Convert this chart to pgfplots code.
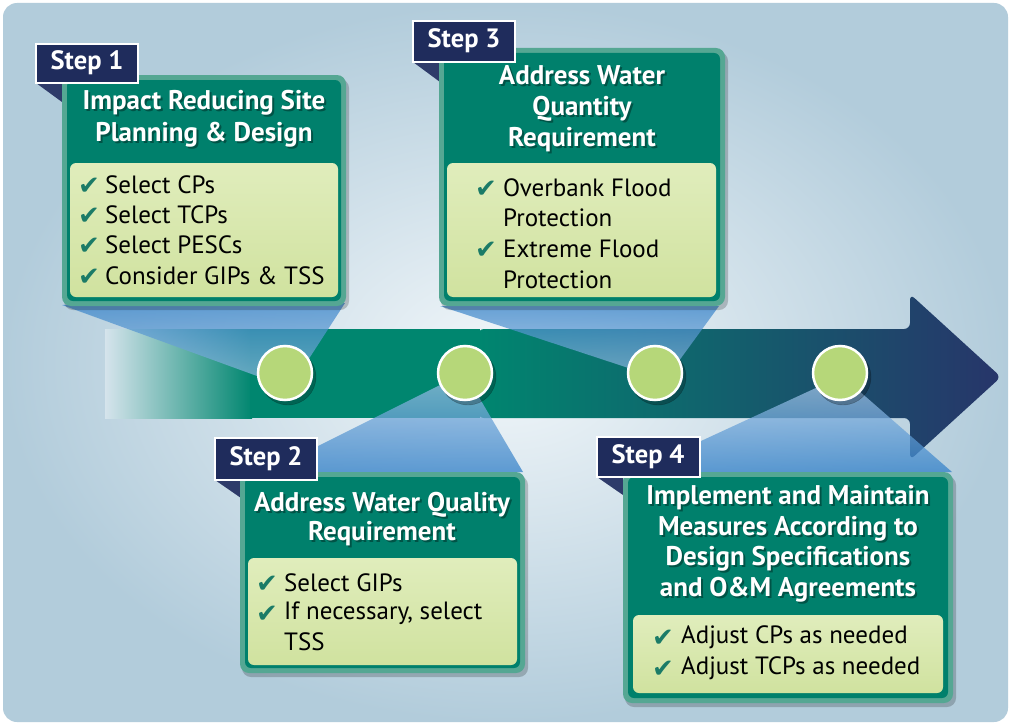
\documentclass[border=0pt]{standalone}
\usepackage{pgfplots}
\pgfplotsset{compat=1.18}
\usepackage{fontspec}
\setmainfont{PT Sans}
\newfontfamily\sym{DejaVu Sans}
\definecolor{bgin}{HTML}{F2F7FA}
\definecolor{bgout}{HTML}{B2CCDB}
\definecolor{tealA}{HTML}{00866F}
\definecolor{tealM}{HTML}{4E7D82}
\definecolor{navyA}{HTML}{27356A}
\definecolor{boxin}{HTML}{00806C}
\definecolor{boxout}{HTML}{55A793}
\definecolor{paneltop}{HTML}{E0EDBC}
\definecolor{panelbot}{HTML}{D0E29F}
\definecolor{lab}{HTML}{1F2C5C}
\definecolor{labtri}{HTML}{2E3B6A}
\definecolor{chk}{HTML}{1B7B67}
\definecolor{beamS}{HTML}{3280C8}
\definecolor{beamL}{HTML}{9CC0E4}
\definecolor{circ}{HTML}{B6D779}
\newcommand\ck{{\sym\color{chk}✔}}
\tikzset{ttl/.style={white,align=center,font=\bfseries\fontsize{27}{31}\selectfont},
 shd/.style={black,opacity=0.35,align=center,font=\bfseries\fontsize{27}{31}\selectfont},
 itm/.style={anchor=west,black,font=\fontsize{25}{30}\selectfont,inner sep=0pt},
 cks/.style={anchor=center,font=\fontsize{26}{30}\selectfont,inner sep=0pt},
 stp/.style={white,font=\bfseries\fontsize{26.5}{28}\selectfont}}
\begin{document}
\begin{tikzpicture}
\begin{axis}[width=1011pt,height=725pt,scale only axis,xmin=0,xmax=1011,ymin=0,ymax=725,
  y dir=reverse,axis lines=none,clip=false]
% background
\addplot[draw=none,fill=white] coordinates {(0,0)(1011,0)(1011,725)(0,725)} -- cycle;
\addplot[draw=none,inner color=bgin,outer color=bgout,rounded corners=14pt] coordinates {(3,3)(1008,3)(1008,722)(3,722)} -- cycle;
% arrow
\addplot[draw=none,left color=bgin!55!bgout,right color=tealA] coordinates {(105,329)(252,329)(252,418)(105,418)} -- cycle;
\addplot[draw=none,fill=tealA] coordinates {(250,329)(480,329)(480,418)(250,418)} -- cycle;
\addplot[draw=none,left color=tealA,middle color=tealM,right color=navyA,rounded corners=6pt] coordinates {(478,329)(910,329)(910,294)(1001,377)(910,460)(910,418)(478,418)} -- cycle;
% circles
\addplot[only marks,mark=*,mark size=28pt,mark options={fill=black,draw=none,opacity=0.25}] coordinates {(288,377)(468,377)(658,377)(843,377)};
\addplot[only marks,mark=*,mark size=27pt,mark options={fill=circ,draw=white,line width=2.5pt}] coordinates {(285,373)(465,373)(655,373)(840,373)};
% beams
\addplot[draw=none,top color=beamS,bottom color=beamL,fill opacity=0.7] coordinates {(62,305)(345,303)(290,388)} -- cycle;
\addplot[draw=none,top color=beamS,bottom color=beamL,fill opacity=0.7] coordinates {(440,306)(719,306)(665,380)} -- cycle;
\addplot[draw=none,top color=beamL,bottom color=beamS,fill opacity=0.75] coordinates {(310,450)(458,376)(470,382)(523,472)(310,472)} -- cycle;
\addplot[draw=none,top color=beamL,bottom color=beamS,fill opacity=0.75] coordinates {(688,447)(818,387)(858,390)(952,472)(688,472)} -- cycle;
% ---------- Step 1
\addplot[fill=labtri,draw=none] coordinates {(36,83)(62,83)(62,102)} -- cycle;
\addplot[fill=black,opacity=0.2,draw=none,rounded corners=9pt] coordinates {(64,79)(349,79)(349,310)(64,310)} -- cycle;
\addplot[fill=boxout,draw=none,rounded corners=9pt] coordinates {(62,75)(346,75)(346,306)(62,306)} -- cycle;
\addplot[fill=boxin,draw=none,rounded corners=6pt] coordinates {(67,80)(341,80)(341,301)(67,301)} -- cycle;
\addplot[top color=paneltop,bottom color=panelbot,draw=none,rounded corners=6pt] coordinates {(70,163)(338,163)(338,297)(70,297)} -- cycle;
\addplot[fill=lab,draw=white,line width=1.5pt] coordinates {(36,44)(138,44)(138,83)(36,83)} -- cycle;
\node[stp] at (87,63) {Step 1};
\node[shd,font=\bfseries\fontsize{27}{32}\selectfont] at (206,121) {Impact Reducing Site\\Planning \& Design};
\node[ttl,font=\bfseries\fontsize{27}{32}\selectfont] at (204,119) {Impact Reducing Site\\Planning \& Design};
\node[cks] at (89,186) {\ck}; \node[itm] at (105,185) {Select CPs};
\node[cks] at (89,216) {\ck}; \node[itm] at (105,215) {Select TCPs};
\node[cks] at (89,246) {\ck}; \node[itm] at (105,245) {Select PESCs};
\node[cks] at (89,277) {\ck}; \node[itm] at (105,276) {Consider GIPs \& TSS};
% ---------- Step 3
\addplot[fill=labtri,draw=none] coordinates {(413,62)(440,62)(440,82)} -- cycle;
\addplot[fill=black,opacity=0.2,draw=none,rounded corners=9pt] coordinates {(441,52)(728,52)(728,310)(441,310)} -- cycle;
\addplot[fill=boxout,draw=none,rounded corners=9pt] coordinates {(439,48)(725,48)(725,306)(439,306)} -- cycle;
\addplot[fill=boxin,draw=none,rounded corners=6pt] coordinates {(444,53)(720,53)(720,301)(444,301)} -- cycle;
\addplot[top color=paneltop,bottom color=panelbot,draw=none,rounded corners=6pt] coordinates {(447,163)(716,163)(716,297)(447,297)} -- cycle;
\addplot[fill=lab,draw=white,line width=1.5pt] coordinates {(413,21)(515,21)(515,62)(413,62)} -- cycle;
\node[stp] at (464,41) {Step 3};
\node[shd] at (584,111) {Address Water\\Quantity\\Requirement};
\node[ttl] at (582,109) {Address Water\\Quantity\\Requirement};
\node[cks] at (486,189) {\ck}; \node[itm] at (503,188) {Overbank Flood};
\node[itm] at (503,218) {Protection};
\node[cks] at (486,250) {\ck}; \node[itm] at (503,249) {Extreme Flood};
\node[itm] at (503,280) {Protection};
% ---------- Step 2
\addplot[fill=labtri,draw=none] coordinates {(215,480)(241,480)(241,498)} -- cycle;
\addplot[fill=black,opacity=0.2,draw=none,rounded corners=9pt] coordinates {(242,476)(528,476)(528,677)(242,677)} -- cycle;
\addplot[fill=boxout,draw=none,rounded corners=9pt] coordinates {(240,472)(525,472)(525,673)(240,673)} -- cycle;
\addplot[fill=boxin,draw=none,rounded corners=6pt] coordinates {(245,477)(520,477)(520,668)(245,668)} -- cycle;
\addplot[top color=paneltop,bottom color=panelbot,draw=none,rounded corners=6pt] coordinates {(248,558)(517,558)(517,665)(248,665)} -- cycle;
\addplot[fill=lab,draw=white,line width=1.5pt] coordinates {(215,438)(317,438)(317,480)(215,480)} -- cycle;
\node[stp] at (266,459) {Step 2};
\node[shd,font=\bfseries\fontsize{27}{29}\selectfont] at (384,521) {Address Water Quality\\Requirement};
\node[ttl,font=\bfseries\fontsize{27}{29}\selectfont] at (382,519) {Address Water Quality\\Requirement};
\node[cks] at (267,584) {\ck}; \node[itm] at (284,583) {Select GIPs};
\node[cks] at (267,614) {\ck}; \node[itm] at (284,613) {If necessary, select};
\node[itm] at (284,642) {TSS};
% ---------- Step 4
\addplot[fill=labtri,draw=none] coordinates {(597,477)(623,477)(623,495)} -- cycle;
\addplot[fill=black,opacity=0.2,draw=none,rounded corners=9pt] coordinates {(625,476)(956,476)(956,707)(625,707)} -- cycle;
\addplot[fill=boxout,draw=none,rounded corners=9pt] coordinates {(623,472)(953,472)(953,703)(623,703)} -- cycle;
\addplot[fill=boxin,draw=none,rounded corners=6pt] coordinates {(628,477)(948,477)(948,698)(628,698)} -- cycle;
\addplot[top color=paneltop,bottom color=panelbot,draw=none,rounded corners=6pt] coordinates {(633,615)(943,615)(943,693)(633,693)} -- cycle;
\addplot[fill=lab,draw=white,line width=1.5pt] coordinates {(597,437)(700,437)(700,477)(597,477)} -- cycle;
\node[stp] at (648,457) {Step 4};
\node[shd,font=\bfseries\fontsize{27}{30.5}\selectfont] at (790,546) {Implement and Maintain\\Measures According to\\Design Specifications\\and O\&M Agreements};
\node[ttl,font=\bfseries\fontsize{27}{30.5}\selectfont] at (788,544) {Implement and Maintain\\Measures According to\\Design Specifications\\and O\&M Agreements};
\node[cks] at (663,638) {\ck}; \node[itm] at (681,637) {Adjust CPs as needed};
\node[cks] at (663,669) {\ck}; \node[itm] at (681,668) {Adjust TCPs as needed};
\end{axis}
\end{tikzpicture}
\end{document}
